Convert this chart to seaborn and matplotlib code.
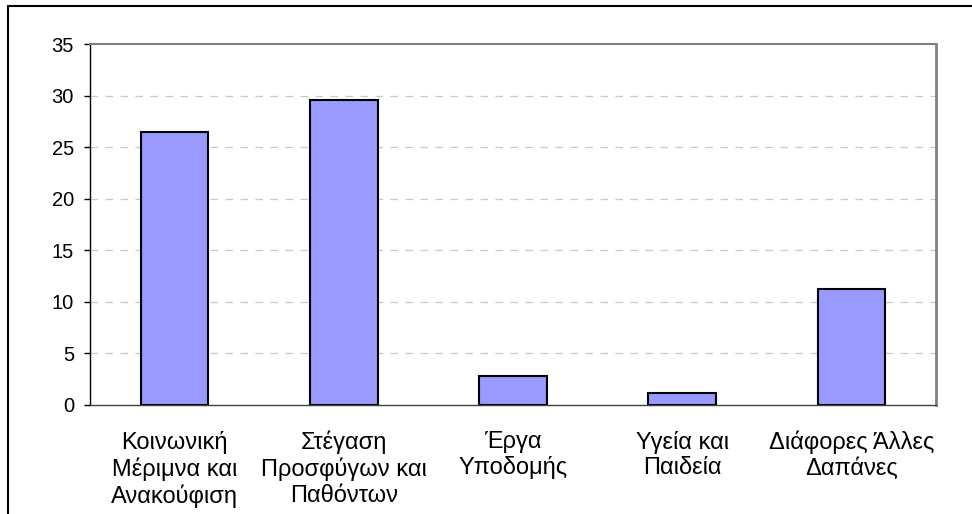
import matplotlib
matplotlib.use('Agg')
import matplotlib.pyplot as plt
from matplotlib.lines import Line2D
import seaborn as sns

# Chart data
categories = ['Κοινωνική\nΜέριμνα και\nΑνακούφιση',
              'Στέγαση\nΠροσφύγων και\nΠαθόντων',
              'Έργα\nΥποδομής',
              'Υγεία και\nΠαιδεία',
              'Διάφορες Άλλες\nΔαπάνες']
values = [26.5, 29.6, 2.8, 1.2, 11.2]
y_ticks = [0, 5, 10, 15, 20, 25, 30, 35]

sns.set_style('white')
plt.rcParams['font.family'] = ['Liberation Sans', 'DejaVu Sans']

fig = plt.figure(figsize=(9.72, 5.14), dpi=100)
ax = fig.add_axes([90 / 972, 1 - 405 / 514, (936 - 90) / 972, (405 - 44) / 514])

sns.barplot(x=categories, y=values, color='#9999FF', saturation=1,
            width=0.4, edgecolor='black', linewidth=1.5, ax=ax)

ax.set_xlim(-0.5, len(categories) - 0.5)
ax.set_ylim(0, 35)
ax.set_yticks(y_ticks)
ax.set_yticklabels([str(t) for t in y_ticks], fontsize=14.5, color='black')

# category boundary ticks like Excel
ax.set_xticks([i - 0.5 for i in range(len(categories) + 1)], minor=True)
ax.tick_params(axis='x', which='major', length=0, pad=18.5, labelsize=17, labelcolor='black')
ax.tick_params(axis='x', which='minor', length=5, width=1, direction='out', color='#404040')
ax.tick_params(axis='y', which='major', length=4, width=1, direction='out', pad=7.5, color='black')
ax.tick_params(left=True, bottom=True)

for t in ax.get_xticklabels():
    t.set_linespacing(1.2)

# gridlines
for y in y_ticks[1:-1]:
    ax.axhline(y, color='#C8C8C8', lw=0.9, ls=(0, (6, 6)), zorder=0)

ax.spines['left'].set_color('black')
ax.spines['left'].set_linewidth(1)
ax.spines['bottom'].set_color('#404040')
ax.spines['bottom'].set_linewidth(1)
ax.spines['top'].set_color('#808080')
ax.spines['top'].set_linewidth(1.5)
ax.spines['right'].set_color('#808080')
ax.spines['right'].set_linewidth(2)
for s in ax.spines.values():
    s.set_visible(True)

ax.set_xlabel('')
ax.set_ylabel('')

# outer chart frame (only left and top edges are inside the picture)
fig.add_artist(Line2D([7.5 / 972, 7.5 / 972], [0, 1 - 6 / 514], color='black', lw=1.5))
fig.add_artist(Line2D([7.5 / 972, 1], [1 - 6 / 514, 1 - 6 / 514], color='black', lw=1.5))

fig.savefig('out.png', dpi=100)
